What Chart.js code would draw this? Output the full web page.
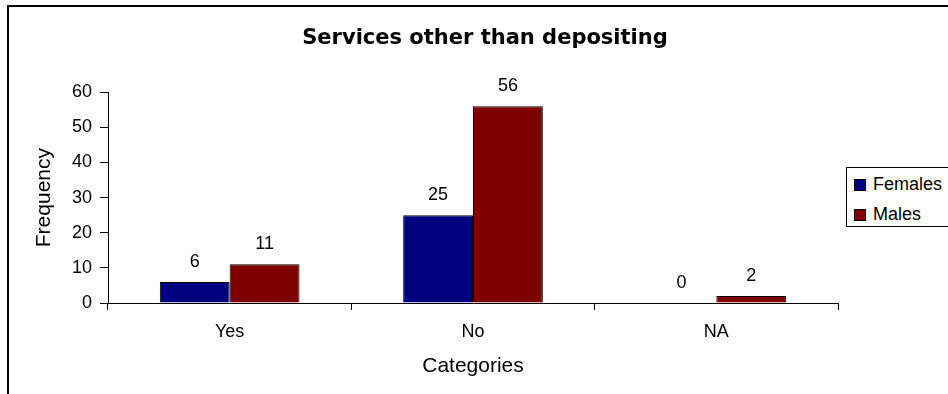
<!DOCTYPE html>
<html>
<head>
<meta charset="utf-8">
<script src="https://cdn.jsdelivr.net/npm/chart.js@4.4.1/dist/chart.umd.min.js"></script>
<style>
  html, body { margin: 0; padding: 0; overflow: hidden; background: #fff; }
  #frame { position: absolute; left: 7px; top: 5px; width: 1000px; height: 500px; border-left: 2px solid #000; border-top: 2px solid #000; }
  #wrap { position: absolute; left: 0; top: 0; width: 948px; height: 394px; }
  #legend { position: absolute; left: 846px; top: 167px; width: 140px; height: 58px; border: 1px solid #000; background: #fff;
            font-family: "Liberation Sans", Arial, sans-serif; font-size: 18px; }
  #legend .item { position: absolute; left: 7px; height: 20px; line-height: 20px; white-space: nowrap; }
  #legend .sw { display: inline-block; width: 10px; height: 10px; border: 1px solid #000; margin-right: 7px; vertical-align: -1px; }
</style>
</head>
<body>
<div id="frame"></div>
<div id="wrap"><canvas id="chart"></canvas></div>
<div id="legend"></div>
<script>
// values
const categories = ['Yes', 'No', 'NA'];
const females = [6, 25, 0];
const males = [11, 56, 2];
const seriesNames = ['Females', 'Males'];
const seriesColors = ['#000080', '#800000'];
const yTicks = [0, 10, 20, 30, 40, 50, 60];

const font = '"Liberation Sans", Arial, sans-serif';

// values printed above each bar
const barLabels = {
    id: 'barLabels',
    afterDatasetsDraw(chart) {
        const ctx = chart.ctx;
        ctx.save();
        ctx.fillStyle = '#000';
        ctx.font = '18px ' + font;
        ctx.textAlign = 'center';
        ctx.textBaseline = 'middle';
        chart.data.datasets.forEach((ds, i) => {
            chart.getDatasetMeta(i).data.forEach((bar, j) => {
                ctx.fillText(String(ds.data[j]), bar.x, bar.y - 20);
            });
        });
        ctx.restore();
    }
};

const ctx = document.getElementById('chart').getContext('2d');
const chart = new Chart(ctx, {
    type: 'bar',
    data: {
        labels: categories,
        datasets: [
            {
                label: seriesNames[0],
                data: females,
                backgroundColor: seriesColors[0],
                borderColor: '#000',
                borderWidth: 1,
                categoryPercentage: 0.574,
                barPercentage: 1,
            },
            {
                label: seriesNames[1],
                data: males,
                backgroundColor: seriesColors[1],
                borderColor: '#000',
                borderWidth: 1,
                categoryPercentage: 0.574,
                barPercentage: 1,
            },
        ],
    },
    options: {
        responsive: true,
        maintainAspectRatio: false,
        animation: false,
        layout: { padding: { left: 22, right: 0, top: 0, bottom: 0 } },
        plugins: {
            legend: { display: false },
            tooltip: { enabled: false },
            title: {
                display: true,
                text: 'Services other than depositing',
                color: '#000',
                font: { family: '"DejaVu Sans", sans-serif', size: 21, weight: 'bold', lineHeight: 1.2 },
                padding: { top: 26, bottom: 41 },
            },
        },
        scales: {
            x: {
                afterFit: s => { s.height = 91; },
                grid: { display: true, drawOnChartArea: false, offset: true, color: '#000', tickLength: 7, tickColor: '#000' },
                border: { color: '#000', width: 1 },
                ticks: { color: '#000', font: { family: font, size: 18 }, padding: 11 },
                title: {
                    display: true,
                    text: 'Categories',
                    color: '#000',
                    font: { family: font, size: 21, lineHeight: 1.2 },
                    padding: { top: 0, bottom: 15 },
                },
            },
            y: {
                min: 0,
                max: 60,
                afterFit: s => { s.width = 86; },
                afterBuildTicks: s => { s.ticks = yTicks.map(v => ({ value: v })); },
                grid: { display: true, drawOnChartArea: false, color: '#000', tickLength: 8, tickColor: '#000' },
                border: { color: '#000', width: 1 },
                ticks: { color: '#000', font: { family: font, size: 18 }, padding: 8 },
                title: {
                    display: true,
                    text: 'Frequency',
                    color: '#000',
                    font: { family: font, size: 21, lineHeight: 1.2 },
                    padding: { top: 10, bottom: 0 },
                },
            },
            // empty box on the right keeps the room where the legend sits
            side: {
                type: 'linear',
                position: 'right',
                display: true,
                afterFit: s => { s.width = 110; },
                grid: { display: false },
                border: { display: false },
                ticks: { display: false },
            },
        },
    },
    plugins: [barLabels],
});

// legend box on the right, built from the datasets
const legend = document.getElementById('legend');
chart.data.datasets.forEach((ds, i) => {
    const item = document.createElement('div');
    item.className = 'item';
    item.style.top = (6 + i * 30) + 'px';
    const sw = document.createElement('span');
    sw.className = 'sw';
    sw.style.background = ds.backgroundColor;
    item.appendChild(sw);
    item.appendChild(document.createTextNode(ds.label));
    legend.appendChild(item);
});
</script>
</body>
</html>
